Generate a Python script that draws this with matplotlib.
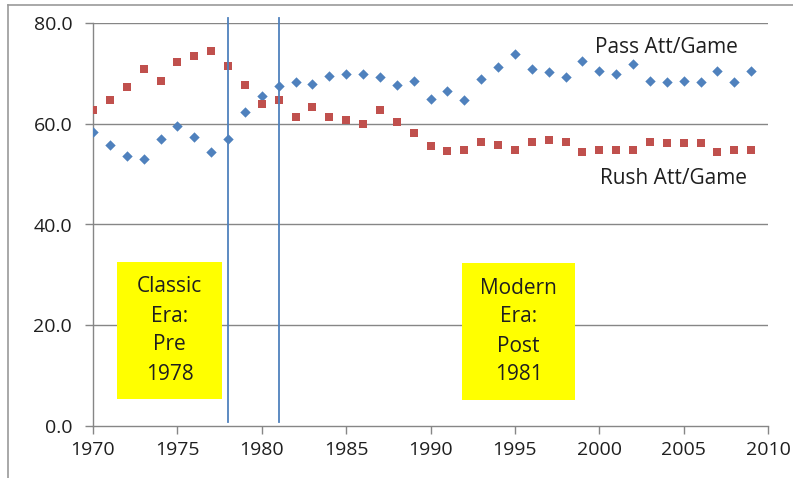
import matplotlib
matplotlib.use("Agg")
import matplotlib.pyplot as plt
from matplotlib.lines import Line2D
from matplotlib.patches import Rectangle

years = list(range(1970, 2010))
pass_att = [58.3, 55.7, 53.5, 53.1, 57.0, 59.6, 57.4, 54.4, 57.0, 62.3,
            65.6, 67.5, 68.2, 67.9, 69.5, 69.9, 69.9, 69.2, 67.6, 68.5,
            64.9, 66.6, 64.7, 68.9, 71.2, 73.8, 70.9, 70.2, 69.2, 72.5,
            70.5, 69.8, 71.8, 68.5, 68.2, 68.5, 68.2, 70.5, 68.2, 70.5]
rush_att = [62.7, 64.7, 67.2, 70.9, 68.5, 72.2, 73.4, 74.5, 71.5, 67.6,
            64.0, 64.7, 61.3, 63.3, 61.3, 60.7, 60.0, 62.7, 60.3, 58.1,
            55.5, 54.5, 54.7, 56.4, 55.8, 54.8, 56.4, 56.7, 56.4, 54.4,
            54.7, 54.7, 54.7, 56.4, 56.1, 56.1, 56.1, 54.4, 54.7, 54.7]
era_lines = [1978, 1981]
x_ticks = [1970, 1975, 1980, 1985, 1990, 1995, 2000, 2005, 2010]
y_ticks = [0, 20, 40, 60, 80]
series_labels = ["Pass Att/Game", "Rush Att/Game"]
era_labels = ["Classic\nEra:\nPre\n1978", "Modern\nEra:\nPost\n1981"]

plt.rcParams['font.family'] = ['Open Sans', 'DejaVu Sans']
fig = plt.figure(figsize=(7.93, 4.78), dpi=100)
ax = fig.add_axes([93/793, 1 - 426/478, (768-93)/793, (426-23)/478])

grid_c = "#868686"
text_c = "#1f1f1f"
for yv in y_ticks[1:]:
    ax.axhline(yv, color=grid_c, lw=1.0, zorder=1)

ax.scatter(years, pass_att, marker="D", s=28, color="#4F81BD", zorder=3, linewidths=0)
ax.scatter(years, rush_att, marker="s", s=36, color="#C0504D", zorder=3, linewidths=0)

for xv in era_lines:
    ax.add_line(Line2D([xv, xv], [0.8, 81.0], color="#4F81BD", lw=1.3,
                       clip_on=False, zorder=4))

ax.set_xlim(1970, 2010)
ax.set_ylim(0, 80)
ax.set_xticks(x_ticks)
ax.set_yticks(y_ticks)
ax.set_yticklabels([f"{v:.1f}" for v in y_ticks])
for s in ["top", "right"]:
    ax.spines[s].set_visible(False)
for s in ["left", "bottom"]:
    ax.spines[s].set_color(grid_c)
    ax.spines[s].set_linewidth(1.0)
ax.tick_params(axis="both", colors=grid_c, length=6, width=1.0, labelsize=14,
               labelcolor=text_c)
ax.tick_params(axis="x", pad=5)
ax.tick_params(axis="y", pad=9)

# series labels
fig.text(666/793, 1 - 47/478, series_labels[0], ha="center", va="center",
         fontsize=15, color=text_c)
fig.text(674/793, 1 - 179/478, series_labels[1], ha="center", va="center",
         fontsize=15, color=text_c)

# era boxes
boxes = [(117, 262, 222, 399), (462, 263, 575, 400)]
for (x0, y0, x1, y1), lab in zip(boxes, era_labels):
    fig.patches.append(Rectangle((x0/793, 1 - y1/478), (x1-x0)/793, (y1-y0)/478,
                                 transform=fig.transFigure, facecolor="#FFFF00",
                                 edgecolor="none", zorder=5))
    fig.text((x0+x1)/2/793, 1 - (y0+y1)/2/478, lab, ha="center", va="center",
             fontsize=15, color=text_c, linespacing=1.5, zorder=6)

# chart border (top and left)
fig.add_artist(Line2D([8/793, 1], [1 - 5/478, 1 - 5/478], transform=fig.transFigure,
                      color="#9a9a9a", lw=1.2))
fig.add_artist(Line2D([8/793, 8/793], [0, 1 - 5/478], transform=fig.transFigure,
                      color="#9a9a9a", lw=1.2))

fig.savefig("out.png", dpi=100)
